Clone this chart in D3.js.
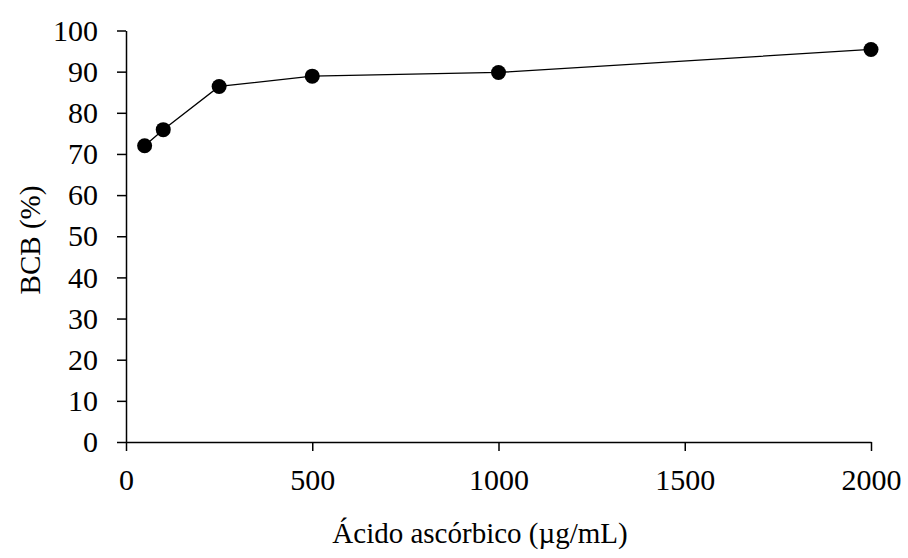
<!DOCTYPE html>
<html>
<head>
<meta charset="utf-8">
<script src="https://cdn.jsdelivr.net/npm/d3@7"></script>
<style>
  html, body { margin: 0; padding: 0; background: #fff; }
  svg { display: block; }
  .axis text { font-family: "Liberation Serif", "Times New Roman", serif; font-size: 30px; fill: #000; }
  .axis path, .axis line { stroke: #000; stroke-width: 1.5px; }
  .title { font-family: "Liberation Serif", "Times New Roman", serif; font-size: 29px; fill: #000; }
</style>
</head>
<body>
<svg id="chart" width="908" height="558"></svg>
<script>
// Concentration of ascorbic acid (µg/mL) and BCB inhibition (%)
const concentrations = [50, 100, 250, 500, 1000, 2000];
const bcbValues = [72.0, 75.9, 86.4, 88.9, 89.8, 95.4];
const xTicks = [0, 500, 1000, 1500, 2000];
const yTicks = [0, 10, 20, 30, 40, 50, 60, 70, 80, 90, 100];
const xTitle = "Ácido ascórbico (µg/mL)";
const yTitle = "BCB (%)";

const svg = d3.select("#chart");
const x = d3.scaleLinear().domain([0, 2000]).range([126, 871]);
const y = d3.scaleLinear().domain([0, 100]).range([442, 30.5]);

svg.append("g")
  .attr("class", "axis")
  .attr("transform", `translate(0,${y(0)})`)
  .call(d3.axisBottom(x).tickValues(xTicks).tickSize(9).tickSizeOuter(0).tickPadding(17.5).tickFormat(d3.format("d")));

svg.append("g")
  .attr("class", "axis")
  .attr("transform", `translate(${x(0)},0)`)
  .call(d3.axisLeft(y).tickValues(yTicks).tickSize(9).tickSizeOuter(0).tickPadding(19).tickFormat(d3.format("d")));

const line = d3.line()
  .x((d, i) => x(concentrations[i]))
  .y(d => y(d));

svg.append("path")
  .datum(bcbValues)
  .attr("d", line)
  .attr("fill", "none")
  .attr("stroke", "#000")
  .attr("stroke-width", 1.3);

svg.append("g")
  .selectAll("circle")
  .data(bcbValues)
  .join("circle")
  .attr("cx", (d, i) => x(concentrations[i]))
  .attr("cy", d => y(d))
  .attr("r", 7.5)
  .attr("fill", "#000");

svg.append("text")
  .attr("class", "title")
  .attr("x", 480)
  .attr("y", 543)
  .attr("text-anchor", "middle")
  .text(xTitle);

svg.append("text")
  .attr("class", "title")
  .attr("transform", "translate(40,240) rotate(-90)")
  .attr("text-anchor", "middle")
  .text(yTitle);
</script>
</body>
</html>
